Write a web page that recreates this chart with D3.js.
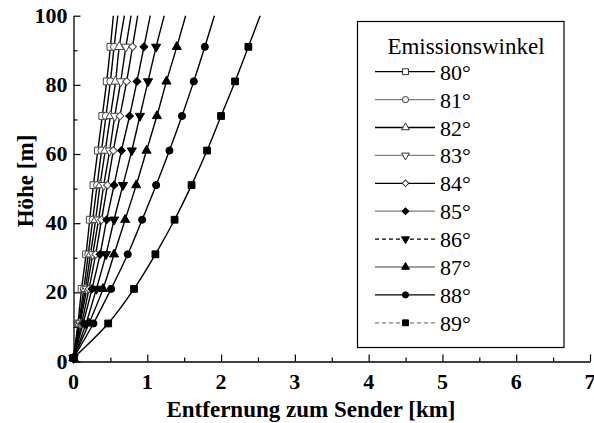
<!DOCTYPE html>
<html>
<head>
<meta charset="utf-8">
<script src="https://cdn.jsdelivr.net/npm/d3@7"></script>
</head>
<body style="margin:0">
<svg id="chart" width="594" height="423"></svg>
<script>
// Heights (m) at which each ray is sampled, and the top of the plotted range
const heights = [1, 11, 21, 31, 41, 51, 61, 71, 81, 91];
const topHeight = 100;

// Emission angles (degrees)
const angles = [80, 81, 82, 83, 84, 85, 86, 87, 88, 89];

// Horizontal distance from the transmitter (km) at each sampled height
const dist80 = [0, 0.06, 0.11, 0.17, 0.22, 0.27, 0.33, 0.39, 0.45, 0.50];
const dist81 = [0, 0.07, 0.14, 0.20, 0.26, 0.32, 0.38, 0.44, 0.50, 0.55];
const dist82 = [0, 0.08, 0.16, 0.23, 0.30, 0.36, 0.43, 0.50, 0.57, 0.62];
const dist83 = [0, 0.09, 0.18, 0.26, 0.34, 0.41, 0.49, 0.56, 0.64, 0.71];
const dist84 = [0, 0.11, 0.21, 0.30, 0.38, 0.46, 0.54, 0.63, 0.72, 0.80];
const dist85 = [0, 0.13, 0.25, 0.36, 0.45, 0.55, 0.65, 0.76, 0.86, 0.955];
const dist86 = [0, 0.17, 0.31, 0.44, 0.55, 0.67, 0.79, 0.90, 1.01, 1.12];
const dist87 = [0, 0.21, 0.40, 0.55, 0.70, 0.85, 0.99, 1.13, 1.26, 1.40];
const dist88 = [0, 0.27, 0.51, 0.735, 0.93, 1.12, 1.30, 1.47, 1.63, 1.78];
const dist89 = [0, 0.47, 0.82, 1.11, 1.37, 1.60, 1.81, 2.00, 2.19, 2.37];

// Distance (km) where each ray reaches the top of the plot
const distTop = [0.54, 0.60, 0.69, 0.78, 0.87, 1.04, 1.23, 1.52, 1.91, 2.53];

// Axis ticks
const xTicks = [0, 1, 2, 3, 4, 5, 6, 7];
const yTicks = [0, 20, 40, 60, 80, 100];

const legendTitle = "Emissionswinkel";
const xTitle = "Entfernung zum Sender [km]";
const yTitle = "Höhe [m]";

const distances = [dist80, dist81, dist82, dist83, dist84, dist85, dist86, dist87, dist88, dist89];

// Marker shape / fill, and legend line style per angle
const shapes = ["square", "circle", "triUp", "triDown", "diamond", "diamond", "triDown", "triUp", "circle", "square"];
const filled = [false, false, false, false, false, true, true, true, true, true];
const legendStroke = ["#000", "#808080", "#000", "#808080", "#000", "#808080", "#000", "#808080", "#000", "#808080"];
const legendDash = [null, null, null, null, null, null, "4,3", null, null, "4,3"];

const FONT = '"Times New Roman"';

const svg = d3.select("#chart");
const margin = { left: 73.5, top: 15.7, right: 4, bottom: 61.5 };
const W = 594, H = 423;
const plotBottom = H - margin.bottom;

const x = d3.scaleLinear().domain([0, 7]).range([margin.left, W - margin.right]);
const y = d3.scaleLinear().domain([0, 100]).range([plotBottom, margin.top]);

function symbolPath(shape, scale) {
  const sizes = { square: 46, circle: 40, triUp: 36, triDown: 36, diamond: 30 };
  const type = shape === "square" || shape === "diamond" ? d3.symbolSquare
             : shape === "circle" ? d3.symbolCircle : d3.symbolTriangle;
  return d3.symbol().type(type).size(sizes[shape] * scale)();
}
function symbolRotation(shape) {
  return shape === "triDown" ? 180 : shape === "diamond" ? 45 : 0;
}

// Axis lines with inward major/minor ticks
const xAxis = d3.axisBottom(x).tickValues(d3.range(0, 7.01, 0.5)).tickSize(0).tickFormat("");
const gx = svg.append("g").attr("transform", `translate(0,${plotBottom})`).call(xAxis);
gx.select(".domain").attr("stroke", "#000").attr("stroke-width", 1.3);
gx.selectAll(".tick line").remove();
gx.selectAll(".tick").append("line")
  .attr("y1", 0)
  .attr("y2", d => Number.isInteger(d) ? -7 : -4)
  .attr("stroke", "#000").attr("stroke-width", 1.2);

const yAxis = d3.axisLeft(y).tickValues(d3.range(0, 100.1, 10)).tickSize(0).tickFormat("");
const gy = svg.append("g").attr("transform", `translate(${margin.left},0)`).call(yAxis);
gy.select(".domain").attr("stroke", "#000").attr("stroke-width", 1.3);
gy.selectAll(".tick line").remove();
gy.selectAll(".tick").append("line")
  .attr("x1", 0)
  .attr("x2", d => d % 20 === 0 ? 7 : 4)
  .attr("stroke", "#000").attr("stroke-width", 1.2);

// Tick labels and axis titles
svg.selectAll("text.xtick").data(xTicks).join("text")
  .attr("class", "xtick")
  .attr("x", d => x(d)).attr("y", plotBottom + 27)
  .attr("text-anchor", "middle")
  .style("font-family", FONT).style("font-weight", "bold")
  .attr("font-size", 22)
  .text(d => d);

svg.selectAll("text.ytick").data(yTicks).join("text")
  .attr("class", "ytick")
  .attr("x", margin.left - 6).attr("y", d => y(d) + 7)
  .attr("text-anchor", "end")
  .style("font-family", FONT).style("font-weight", "bold")
  .attr("font-size", 22)
  .text(d => d);

svg.selectAll("text.xtitle").data([xTitle]).join("text")
  .attr("class", "xtitle")
  .attr("x", 311).attr("y", 417)
  .attr("text-anchor", "middle")
  .style("font-family", FONT).style("font-weight", "bold")
  .attr("font-size", 23)
  .text(d => d);

svg.selectAll("text.ytitle").data([yTitle]).join("text")
  .attr("class", "ytitle")
  .attr("transform", "translate(33,181) rotate(-90)")
  .attr("text-anchor", "middle")
  .style("font-family", FONT).style("font-weight", "bold")
  .attr("font-size", 23)
  .text(d => d);

// Rays
const line = d3.line().x(d => x(d.d)).y(d => y(d.h)).curve(d3.curveMonotoneY);
const series = angles.map((a, i) => ({
  angle: a, i,
  points: heights.map((h, k) => ({ h, d: distances[i][k] })),
  top: { h: topHeight, d: distTop[i] }
}));

const plot = svg.append("g");
plot.selectAll("path.ray").data(series).join("path")
  .attr("class", "ray")
  .attr("d", s => line(s.points.concat([s.top])))
  .attr("fill", "none").attr("stroke", "#000").attr("stroke-width", 1.4);

series.forEach(s => {
  plot.append("g").selectAll("path").data(s.points).join("path")
    .attr("transform", p => `translate(${x(p.d)},${y(p.h)}) rotate(${symbolRotation(shapes[s.i])})`)
    .attr("d", symbolPath(shapes[s.i], 1))
    .attr("fill", filled[s.i] ? "#000" : "#fff")
    .attr("stroke", filled[s.i] ? "#000" : "#444")
    .attr("stroke-width", 1);
});

// Legend
const lg = svg.append("g");
lg.append("rect")
  .attr("x", 357.5).attr("y", 21.5).attr("width", 206.5).attr("height", 326)
  .attr("fill", "#fff").attr("stroke", "#000").attr("stroke-width", 1.2);
lg.selectAll("text.ltitle").data([legendTitle]).join("text")
  .attr("class", "ltitle")
  .attr("x", 466).attr("y", 54)
  .attr("text-anchor", "middle")
  .style("font-family", FONT)
  .attr("font-size", 23)
  .text(d => d);

const rows = lg.selectAll("g.row").data(series).join("g")
  .attr("class", "row")
  .attr("transform", s => `translate(0,${71.7 + s.i * 27.9})`);
rows.append("line")
  .attr("x1", 375).attr("x2", 435).attr("y1", 0).attr("y2", 0)
  .attr("stroke", s => legendStroke[s.i])
  .attr("stroke-width", 1.3)
  .attr("stroke-dasharray", s => legendDash[s.i]);
rows.append("path")
  .attr("transform", s => `translate(405.5,0) rotate(${symbolRotation(shapes[s.i])})`)
  .attr("d", s => symbolPath(shapes[s.i], 0.75))
  .attr("fill", s => filled[s.i] ? "#000" : "#fff")
  .attr("stroke", s => filled[s.i] ? "#000" : "#333")
  .attr("stroke-width", 1);
rows.append("text")
  .attr("x", 440).attr("y", 8)
  .style("font-family", FONT)
  .attr("font-size", 22)
  .text(s => s.angle + "°");
</script>
</body>
</html>
